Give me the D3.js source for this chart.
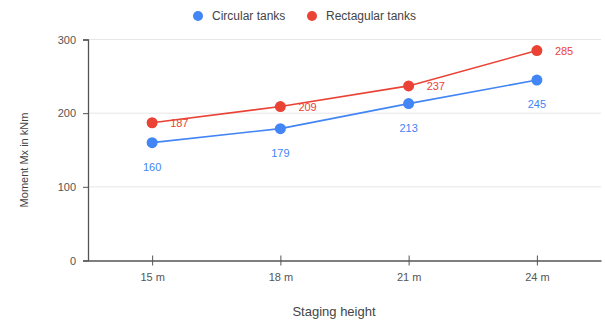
<!DOCTYPE html>
<html><head><meta charset="utf-8">
<script src="https://cdn.jsdelivr.net/npm/d3@7"></script>
<style>body{margin:0;background:#fff}svg{display:block}text{font-family:Arial,"Liberation Sans",sans-serif}</style>
</head><body><svg id="c" width="605" height="322"></svg>
<script>
const categories = ["15 m", "18 m", "21 m", "24 m"];
const circular = [160, 179, 213, 245];
const rectangular = [187, 209, 237, 285];
const yTicks = [0, 100, 200, 300];
const seriesNames = ["Circular tanks", "Rectagular tanks"];
const colors = ["#4285f4", "#ea4335"];

const svg = d3.select("#c");
const x = d3.scalePoint().domain(categories).range([88, 601]).padding(0.5);
const y = d3.scaleLinear().domain([0, 300]).range([260.5, 39.5]);

// gridlines
svg.append("g").selectAll("line").data(yTicks.filter(d => d > 0)).join("line")
  .attr("x1", 88).attr("x2", 601).attr("y1", d => y(d)).attr("y2", d => y(d))
  .attr("stroke", "#e6e6e6").attr("stroke-width", 1);

// y axis
const ya = svg.append("g").attr("transform", "translate(88,0)")
  .call(d3.axisLeft(y).tickValues(yTicks).tickSize(5).tickPadding(7));
ya.select(".domain").attr("stroke", "#555").attr("stroke-width", 1.3);
ya.selectAll(".tick line").attr("stroke", "#555");
ya.selectAll("text").attr("fill", "#555").style("font-size", "11px");

// x axis
const xa = svg.append("g").attr("transform", `translate(0,${y(0)})`)
  .call(d3.axisBottom(x).tickSizeInner(5).tickSizeOuter(0).tickPadding(8));
xa.select(".domain").attr("stroke", "#555").attr("stroke-width", 1.3);
xa.selectAll(".tick line").attr("stroke", "#555").attr("y1", -5);
xa.selectAll("text").attr("fill", "#555").style("font-size", "11px");

// axis titles
svg.append("text").attr("x", 334).attr("y", 316).attr("text-anchor", "middle")
  .attr("fill", "#444").style("font-size", "13px").text("Staging height");
svg.append("text").attr("transform", "translate(28,160) rotate(-90)").attr("text-anchor", "middle")
  .attr("fill", "#444").style("font-size", "11px").text("Moment Mx in kNm");

const series = [circular, rectangular];
const line = d3.line().x((d, i) => x(categories[i])).y(d => y(d));
series.forEach((s, k) => {
  svg.append("path").datum(s).attr("d", line).attr("fill", "none")
    .attr("stroke", colors[k]).attr("stroke-width", 1.6);
  svg.append("g").selectAll("circle").data(s).join("circle")
    .attr("cx", (d, i) => x(categories[i])).attr("cy", d => y(d)).attr("r", 5.5)
    .attr("fill", colors[k]);
});
// labels
svg.append("g").selectAll("text").data(circular).join("text")
  .attr("x", (d, i) => x(categories[i])).attr("y", d => y(d) + 28).attr("text-anchor", "middle")
  .attr("fill", colors[0]).style("font-size", "11px").text(d => d);
svg.append("g").selectAll("text").data(rectangular).join("text")
  .attr("x", (d, i) => x(categories[i]) + 18).attr("y", d => y(d) + 4).attr("text-anchor", "start")
  .attr("fill", colors[1]).style("font-size", "11px").text(d => d);

// legend
const lx = [198, 312];
seriesNames.forEach((n, k) => {
  svg.append("circle").attr("cx", lx[k]).attr("cy", 16).attr("r", 5).attr("fill", colors[k]);
  svg.append("text").attr("x", lx[k] + 14).attr("y", 20).attr("fill", "#444")
    .style("font-size", "12px").text(n);
});
</script></body></html>
